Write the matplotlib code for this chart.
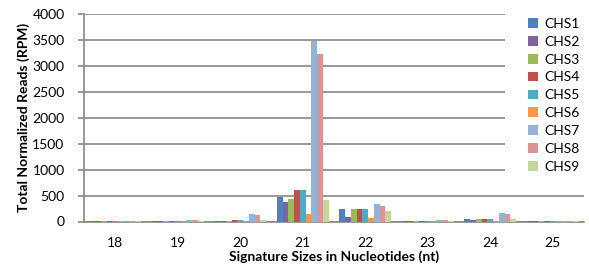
import numpy as np
import matplotlib.pyplot as plt
from matplotlib.patches import Rectangle

plt.rcParams['font.family'] = ['Lato', 'DejaVu Sans']

# signature sizes (nt) and normalized reads per library
sizes = ['18', '19', '20', '21', '22', '23', '24', '25']
libs = ['CHS1', 'CHS2', 'CHS3', 'CHS4', 'CHS5', 'CHS6', 'CHS7', 'CHS8', 'CHS9']

chs1 = [2, 5, 12, 470, 245, 10, 50, 3]
chs2 = [1, 3, 8, 370, 95, 5, 20, 2]
chs3 = [2, 5, 15, 440, 240, 10, 40, 3]
chs4 = [2, 8, 25, 605, 240, 12, 45, 3]
chs5 = [2, 8, 25, 600, 240, 12, 45, 3]
chs6 = [1, 2, 5, 150, 65, 3, 10, 1]
chs7 = [3, 20, 150, 3480, 340, 25, 170, 12]
chs8 = [3, 20, 125, 3220, 300, 20, 140, 12]
chs9 = [2, 8, 20, 405, 195, 10, 40, 5]
series = [chs1, chs2, chs3, chs4, chs5, chs6, chs7, chs8, chs9]

colors = ['#4F81BD', '#8064A2', '#9BBB59', '#C0504D', '#4BACC6',
          '#F79646', '#95B3D7', '#D99694', '#C3D69B']

fig = plt.figure(figsize=(5.89, 2.70), dpi=100)
ax = fig.add_axes([84/589, 48.5/270, 500/589, 207.5/270])

x = np.arange(len(sizes))
w = 0.83 / len(series)
for i, (vals, c) in enumerate(zip(series, colors)):
    ax.bar(x - 0.415 + w * (i + 0.5), vals, width=w, color=c, label=libs[i], zorder=3)

ax.set_xlim(-0.5, len(sizes) - 0.5)
ax.set_ylim(0, 4000)
ax.set_yticks(np.arange(0, 4001, 500))
ax.set_xticks(x)
ax.set_xticklabels(sizes)
ax.yaxis.grid(True, color='#888888', lw=1.2, zorder=0)

for s in ['top', 'right']:
    ax.spines[s].set_visible(False)
ax.spines['left'].set_color('#888888')
ax.spines['bottom'].set_color('#888888')
ax.spines['left'].set_linewidth(1.2)
ax.spines['bottom'].set_linewidth(1.2)
ax.tick_params(axis='y', length=4, width=1.2, color='#888888', labelsize=10, pad=10)
ax.tick_params(axis='x', length=0, labelsize=10, pad=11)

ax.set_xlabel('Signature Sizes in Nucleotides (nt)', fontsize=10, fontweight='bold', labelpad=1)
ax.set_ylabel('Total Normalized Reads (RPM)', fontsize=10, fontweight='bold', labelpad=2)

# legend area hides the gridlines on the right
fig.add_artist(Rectangle((505/589, 78/270), 84/589, 192/270, transform=fig.transFigure,
                         facecolor='white', edgecolor='none', zorder=5))
leg = fig.legend(loc='upper left', bbox_to_anchor=(521/589, 259/270), frameon=False,
                 fontsize=10, handlelength=0.7, handleheight=0.7, handletextpad=0.45,
                 labelspacing=0.42, borderpad=0)
leg.set_zorder(6)

fig.savefig('out.png', dpi=100)
